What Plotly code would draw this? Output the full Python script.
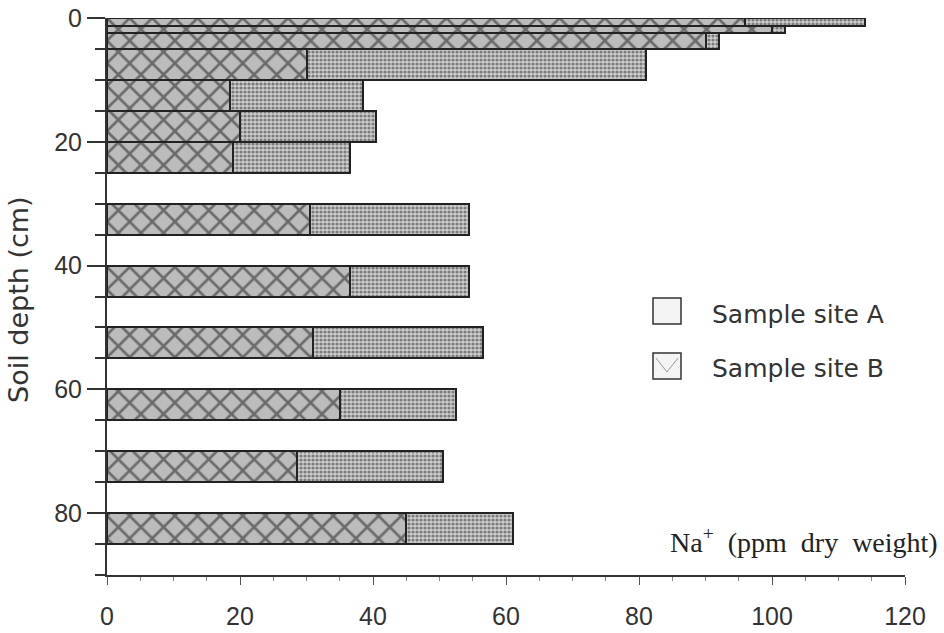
import plotly.graph_objects as go

# ---- data ----
depth_top = [0, 1.25, 2.5, 5, 10, 15, 20, 30, 40, 50, 60, 70, 80]
depth_bottom = [1.25, 2.5, 5, 10, 15, 20, 25, 35, 45, 55, 65, 75, 85]
site_a = [114, 102, 92, 81, 38.5, 40.5, 36.5, 54.5, 54.5, 56.5, 52.5, 50.5, 61]
site_b = [96, 100, 90, 30, 18.5, 20, 19, 30.5, 36.5, 31, 35, 28.5, 45]
x_ticks = [0, 20, 40, 60, 80, 100, 120]
y_ticks = [0, 20, 40, 60, 80]

mid = [(t + b) / 2 for t, b in zip(depth_top, depth_bottom)]
thick = [b - t for t, b in zip(depth_top, depth_bottom)]

W, H = 944, 633
L, R, T, B = 107, 905, 18, 575


def px(x):
    return (x - L) / (R - L)


def py(y):
    return (B - y) / (B - T)


fig = go.Figure()
fig.add_trace(go.Bar(
    y=mid, x=site_a, width=thick, base=0, orientation="h", name="Sample site A",
    marker=dict(color="#c8c8c8", line=dict(color="#222", width=2),
                pattern=dict(shape=".", fgcolor="#2a2a2a", bgcolor="#cdcdcd",
                             size=4, solidity=0.5)),
    showlegend=False))
fig.add_trace(go.Bar(
    y=mid, x=site_b, width=thick, base=0, orientation="h", name="Sample site B",
    marker=dict(color="#bdbdbd", line=dict(color="#222", width=2),
                pattern=dict(shape="x", fgcolor="#181818", bgcolor="#bcbcbc",
                             size=16, solidity=0.3)),
    showlegend=False))

tickfont = dict(family="Liberation Sans, Arial, sans-serif", size=25, color="#333")
fig.update_layout(
    width=W, height=H, barmode="overlay", bargap=0,
    margin=dict(l=L, r=W - R, t=T, b=H - B),
    paper_bgcolor="white", plot_bgcolor="white",
    xaxis=dict(range=[0, 120], tickvals=x_ticks, showgrid=False, zeroline=False,
               showline=True, linecolor="#333", linewidth=2, automargin=False,
               ticks="outside", ticklen=8, tickwidth=1, tickcolor="#555",
               minor=dict(dtick=5, ticks="outside", ticklen=4, tickcolor="#888"),
               tickfont=tickfont, ticklabelstandoff=10),
    yaxis=dict(range=[90, 0], tickvals=y_ticks, showgrid=False, zeroline=False,
               showline=True, linecolor="#333", linewidth=2, automargin=False,
               ticks="outside", ticklen=18, tickwidth=1.5, tickcolor="#333",
               minor=dict(dtick=5, ticks="outside", ticklen=10, tickcolor="#333"),
               tickfont=tickfont),
    font=dict(family="DejaVu Sans, sans-serif", color="#333"),
)

legfont = dict(family="DejaVu Sans, sans-serif", size=25, color="#333")
fig.add_annotation(text="Soil depth (cm)", textangle=-90, xref="paper", yref="paper",
                   x=px(18), y=py(300), xanchor="center", yanchor="middle",
                   showarrow=False, font=dict(family="DejaVu Sans, sans-serif", size=27, color="#333"))
fig.add_annotation(text="Na<sup>+</sup>\u00a0\u00a0(ppm\u00a0\u00a0dry\u00a0\u00a0weight)",
                   xref="paper", yref="paper", x=px(940), y=py(540),
                   xanchor="right", yanchor="middle", showarrow=False,
                   font=dict(family="Liberation Serif, Times New Roman, serif", size=28, color="#222"))

# legend swatches
fig.add_shape(type="rect", xref="paper", yref="paper", x0=px(653), x1=px(681),
              y0=py(324), y1=py(298), line=dict(color="#333", width=1.5), fillcolor="#f4f4f4")
fig.add_shape(type="rect", xref="paper", yref="paper", x0=px(653), x1=px(681),
              y0=py(379), y1=py(353), line=dict(color="#333", width=1.5), fillcolor="#f4f4f4")
fig.add_shape(type="line", xref="paper", yref="paper", x0=px(656), x1=px(667),
              y0=py(358), y1=py(372), line=dict(color="#999", width=1))
fig.add_shape(type="line", xref="paper", yref="paper", x0=px(678), x1=px(667),
              y0=py(358), y1=py(372), line=dict(color="#999", width=1))
fig.add_annotation(text="Sample site A", xref="paper", yref="paper", x=px(710), y=py(314),
                   xanchor="left", yanchor="middle", showarrow=False, font=legfont)
fig.add_annotation(text="Sample site B", xref="paper", yref="paper", x=px(710), y=py(368),
                   xanchor="left", yanchor="middle", showarrow=False, font=legfont)

fig.write_html("out.html")
